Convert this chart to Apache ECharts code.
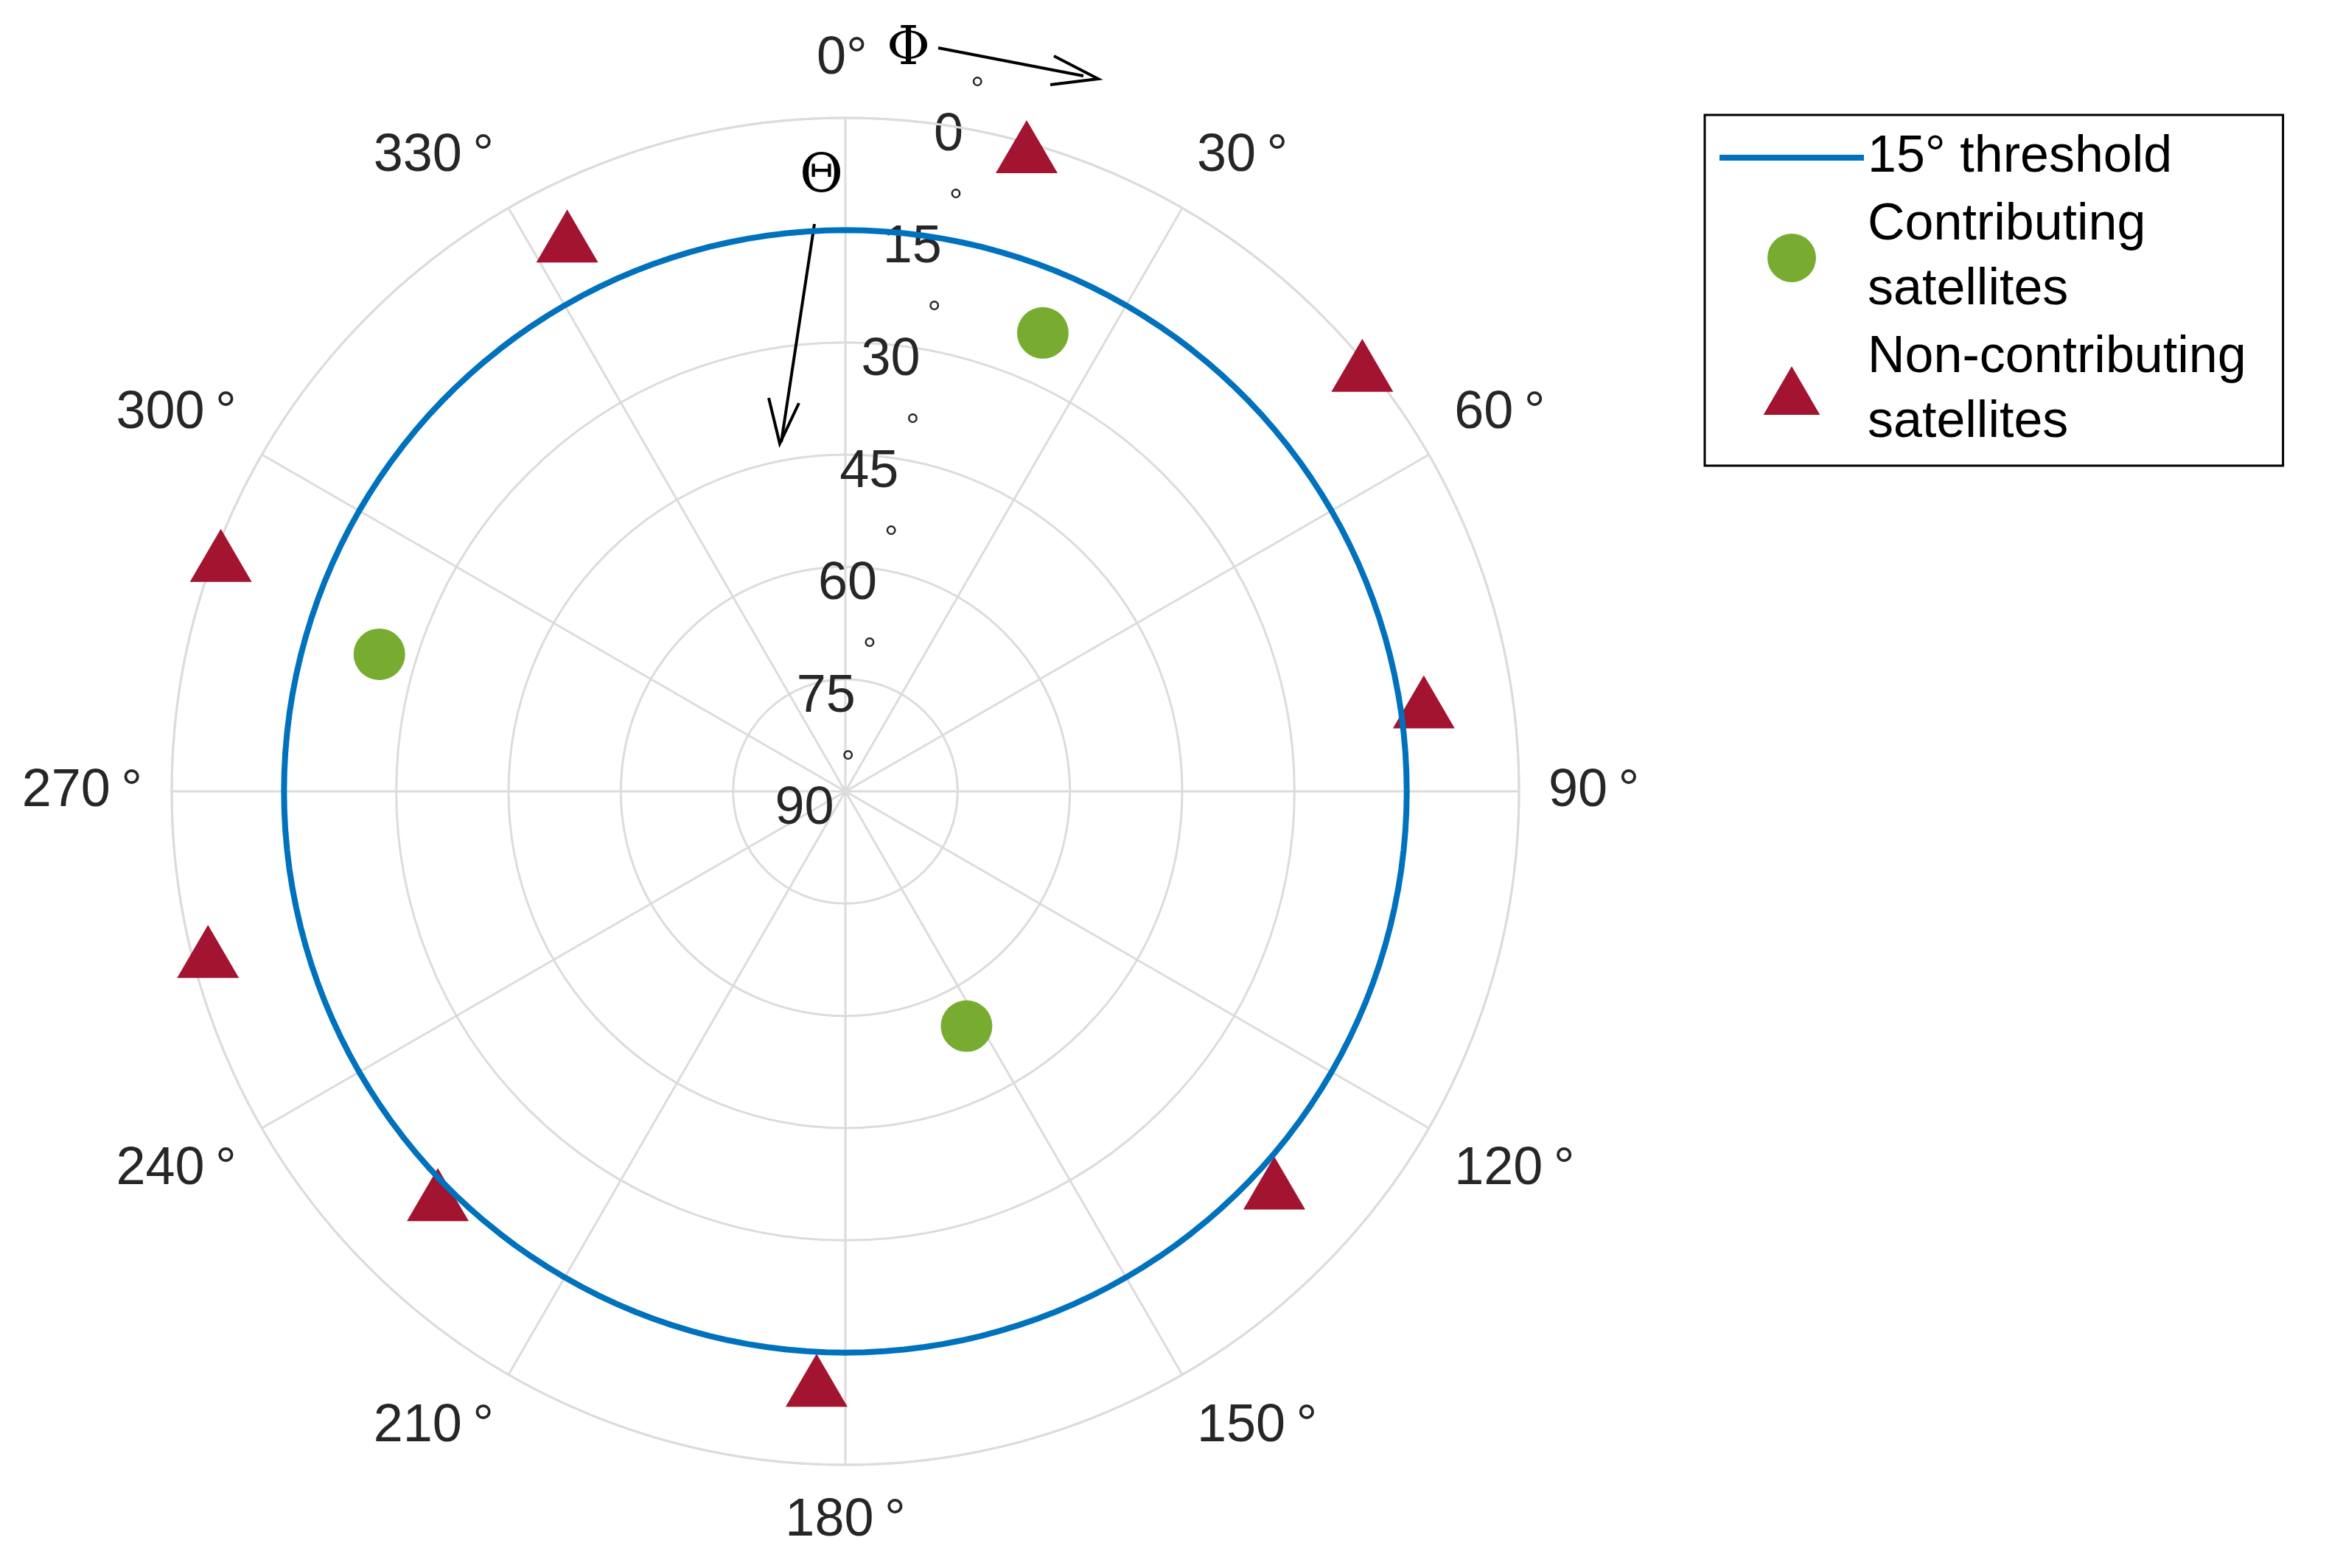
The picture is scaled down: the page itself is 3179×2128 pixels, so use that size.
<!DOCTYPE html>
<html>
<head>
<meta charset="utf-8">
<script src="https://cdn.jsdelivr.net/npm/echarts@6/dist/echarts.min.js"></script>
<style>html,body{margin:0;background:#fff}#chart{width:3179px;height:2128px}</style>
</head>
<body>
<div id="chart"></div>
<script>
// elevation (deg) is the radius, azimuth (deg) is the angle
var contribAz = [23.3, 286.4, 152.7];
var contribEl = [23.3, 25.1, 54.7];
var nonAz = [15.7, 333.4, 50.5, 81.2, 132.4, 182.8, 225.3, 255.9, 290.7];
var nonEl = [0.5, 7, 0.5, 11.8, 12.4, 11.2, 13.4, 2.2, 0.8];
var thresholdEl = 15;
var elevTicks = [0, 15, 30, 45, 60, 75, 90];

var font = 'Liberation Sans';
var myChart = echarts.init(document.getElementById('chart'));

function pairs(az, el) {
	var out = [];
	for (var i = 0; i < az.length; i++) out.push([el[i], az[i]]);
	return out;
}
var ring = [];
for (var a = 0; a <= 360; a += 2) ring.push([thresholdEl, a]);

var option = {
	animation: false,
	polar: { center: [1147, 1074], radius: 914 },
	angleAxis: {
		type: 'value', min: 0, max: 360, interval: 30, startAngle: 90, clockwise: true,
		axisLine: { lineStyle: { color: '#dcdcdc', width: 3 } },
		axisTick: { show: false },
		splitLine: { lineStyle: { color: '#dcdcdc', width: 3 } },
		axisLabel: {
			margin: 40, color: '#262626', fontSize: 72, fontFamily: font,
			formatter: function (v) { return (v == 360 || v == 0) ? '' : v + '\u2009°'; }
		}
	},
	radiusAxis: {
		type: 'value', min: 0, max: 90, interval: 15, inverse: true,
		axisLine: { show: false }, axisTick: { show: false },
		splitLine: { lineStyle: { color: '#dcdcdc', width: 3 } },
		axisLabel: { show: false }
	},
	legend: {
		orient: 'vertical', left: 2313, top: 156, padding: [14, 50, 14, 20],
		borderColor: '#000', borderWidth: 3, itemGap: 4,
		itemWidth: 196, itemHeight: 66,
		textStyle: { fontSize: 70, fontFamily: font, color: '#000', lineHeight: 88 },
		data: [
			{ name: '15° threshold', icon: 'path://M0,0L100,0L100,4L0,4Z' },
			{ name: 'Contributing\nsatellites', icon: 'circle' },
			{ name: 'Non-contributing\nsatellites', icon: 'path://M50,0L100,86L0,86Z' }
		]
	},
	series: [
		{
			name: '15° threshold', type: 'line', coordinateSystem: 'polar',
			data: ring, showSymbol: false, symbol: 'none',
			lineStyle: { color: '#0072BD', width: 8 }, itemStyle: { color: '#0072BD' }
		},
		{
			name: 'Contributing\nsatellites', type: 'scatter', coordinateSystem: 'polar',
			data: pairs(contribAz, contribEl), symbol: 'circle', symbolSize: 70,
			itemStyle: { color: '#77AC30', opacity: 1 }
		},
		{
			name: 'Non-contributing\nsatellites', type: 'scatter', coordinateSystem: 'polar',
			data: pairs(nonAz, nonEl), symbol: 'triangle', symbolSize: [84, 72],
			itemStyle: { color: '#A2142F', opacity: 1 }
		}
	]
};
myChart.setOption(option);

// elevation labels, tilted along a line right of the 0° spoke
var graphics = [
	{ type: 'line', shape: { x1: 1273, y1: 65, x2: 1470, y2: 103 }, style: { stroke: '#000', lineWidth: 4 } },
	{ type: 'polyline', shape: { points: [[1430, 76], [1490, 107], [1425, 115]] }, style: { stroke: '#000', lineWidth: 4, fill: null } },
	{ type: 'line', shape: { x1: 1105, y1: 304, x2: 1060, y2: 600 }, style: { stroke: '#000', lineWidth: 4 } },
	{ type: 'polyline', shape: { points: [[1043, 540], [1058, 602], [1084, 547]] }, style: { stroke: '#000', lineWidth: 4, fill: null } },
	{ type: 'text', left: 1108, top: 44, style: { text: '0°', fontSize: 72, fontFamily: font, fill: '#262626' } },
	{ type: 'text', left: 1203, top: 32, style: { text: 'Φ', fontSize: 72, fontFamily: 'DejaVu Serif', fill: '#000' } },
	{ type: 'text', left: 1085, top: 205, style: { text: 'Θ', fontSize: 72, fontFamily: 'DejaVu Serif', fill: '#000' } }
];
elevTicks.forEach(function (v) {
	var p = myChart.convertToPixel({ polarIndex: 0 }, [v, 0]);
	var x = 1147 + 160 - v * 1.95;
	graphics.push({
		type: 'text', x: x, y: p[1] + 24,
		style: { text: String(v), fontSize: 72, fontFamily: font, fill: '#262626', align: 'right', verticalAlign: 'middle' }
	});
	graphics.push({
		type: 'text', x: x + 10, y: p[1] - 36,
		style: { text: '°', fontSize: 46, fontFamily: font, fill: '#262626', align: 'left', verticalAlign: 'middle' }
	});
});
myChart.setOption({ graphic: graphics });
</script>
</body>
</html>
